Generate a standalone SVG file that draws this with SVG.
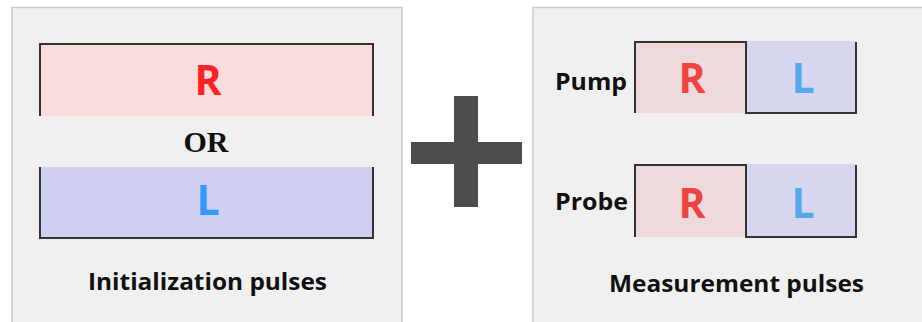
<svg xmlns="http://www.w3.org/2000/svg" width="922" height="322" viewBox="0 0 922 322">
  <style>
    .panel { fill: #f0f0f0; stroke: #c9c9c9; stroke-width: 1.5; }
    .edge { fill: none; stroke: #333333; stroke-width: 2; }
    .lbl { font-family: "Open Sans", "Noto Sans", "Liberation Sans", sans-serif; font-weight: 700; fill: #111111; }
    .big { font-family: "Open Sans", "Noto Sans", "Liberation Sans", sans-serif; font-weight: 700; font-size: 41px; text-anchor: middle; }
    .r1 { fill: #ff2222; }
    .l1 { fill: #3399ff; }
    .r2 { fill: #ee4444; }
    .l2 { fill: #55aaee; }
  </style>
  <rect width="922" height="322" fill="#ffffff"/>

  <!-- Initialization panel -->
  <g id="init-panel">
    <rect class="panel" x="12" y="7.5" width="390" height="330"/>
    <rect x="40" y="44" width="333" height="72" fill="#fadcde"/>
    <path class="edge" d="M40,116 V44 H373 V116"/>
    <text class="big r1" x="208" y="95">R</text>
    <text x="206" y="152" font-family="'Liberation Serif', serif" font-weight="700" font-size="30" text-anchor="middle" fill="#111111">OR</text>
    <rect x="40" y="167" width="333" height="71" fill="#cfcff0"/>
    <path class="edge" d="M40,167 V238 H373 V167"/>
    <text class="big l1" x="208" y="215">L</text>
    <text class="lbl" x="88" y="290" font-size="24" textLength="239" lengthAdjust="spacingAndGlyphs">Initialization pulses</text>
  </g>

  <!-- Plus sign -->
  <g id="plus">
    <rect x="454" y="96" width="24" height="111" fill="#4d4d4d"/>
    <rect x="411" y="142" width="111" height="22" fill="#4d4d4d"/>
  </g>

  <!-- Measurement panel -->
  <g id="measure-panel">
    <rect class="panel" x="533" y="7.5" width="400" height="330"/>
    <text class="lbl" x="555" y="90" font-size="24" fill="#333333" textLength="72" lengthAdjust="spacingAndGlyphs">Pump</text>
    <text class="lbl" x="555" y="210" font-size="24" fill="#333333" textLength="73" lengthAdjust="spacingAndGlyphs">Probe</text>
    <text class="lbl" x="609" y="292" font-size="24" textLength="255" lengthAdjust="spacingAndGlyphs">Measurement pulses</text>
  </g>

  <g id="pump">
    <rect x="635" y="42" width="111" height="71" fill="#eed9db"/>
    <rect x="746" y="41" width="110" height="72" fill="#d6d6ef"/>
    <path class="edge" d="M635,113 V42 H746 V113 H856 V42"/>
    <text class="big r2" x="692" y="93">R</text>
    <text class="big l2" x="803" y="93">L</text>
  </g>

  <g id="probe">
    <rect x="635" y="165" width="111" height="72" fill="#eed9db"/>
    <rect x="746" y="164" width="110" height="73" fill="#d6d6ef"/>
    <path class="edge" d="M635,237 V165 H746 V237 H856 V165"/>
    <text class="big r2" x="692" y="218">R</text>
    <text class="big l2" x="803" y="218">L</text>
  </g>

  <g id="connectors"/>
</svg>
